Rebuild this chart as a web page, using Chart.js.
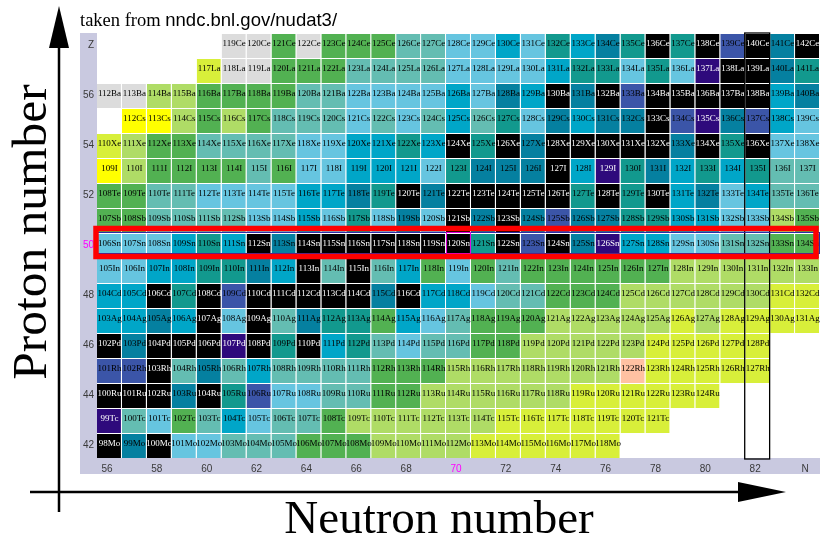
<!DOCTYPE html>
<html>
<head>
<meta charset="utf-8">
<title>Nuclide chart around Z = 50</title>
<script src="https://cdn.jsdelivr.net/npm/chart.js@4.4.0/dist/chart.umd.min.js"></script>
<style>
  html, body { margin: 0; padding: 0; background: #fff; overflow: hidden; }
  #wrap { position: relative; width: 820px; height: 539px; }
</style>
</head>
<body>
<div id="wrap"><canvas id="nuclideChart" width="820" height="539"></canvas></div>
<script>
// neutron numbers along x, one column each
var neutronNumbers = [56, 57, 58, 59, 60, 61, 62, 63, 64, 65, 66, 67, 68, 69, 70,
                      71, 72, 73, 74, 75, 76, 77, 78, 79, 80, 81, 82, 83, 84];
// one row per element, bottom to top
var protonNumbers = [42, 43, 44, 45, 46, 47, 48, 49, 50, 51, 52, 53, 54, 55, 56, 57, 58];
var symbols = ['Mo', 'Tc', 'Ru', 'Rh', 'Pd', 'Ag', 'Cd', 'In', 'Sn', 'Sb', 'Te', 'I', 'Xe', 'Cs', 'Ba', 'La', 'Ce'];
// lightest isotope shown in each row (its neutron number)
var firstNeutron = [56, 56, 56, 56, 56, 56, 56, 56, 56, 56, 56, 56, 56, 57, 56, 60, 61];
// half-life class of each isotope, starting at firstNeutron
// S stable, P >1e10 s, V 1e7-1e10, D 1e5-1e7, T 1e4-1e5, C 1e3-1e4, L 1e2-1e3,
// G 10-100 s, g 1-10 s, l 0.1-1 s, y 10-100 ms, Y <10 ms, U unknown, R other
var halfLifeClass = [
  'SDSLLGGGgggllllyyyyyy',          // Mo
  'PGLgGCLGGgllllllyyyyyyy',        // Tc
  'SSSDSTVLLGGggllllllyyyyyy',      // Ru
  'VVSGDGCGGGGggglllllllRyyyyy',    // Rh
  'SDSSSPSTSCTGLGGgglllllyyyyy',    // Pd
  'CCDCSLSGDTTgCLGggglllllylyyyy',  // Ag
  'CCSTSVSSSSSDSCCLGGgggllllllyy',  // Cd
  'LLCCTTDCSGSGCgLgGggggggllllll',  // In
  'LLLCTCSDSSSSSSSTSVSDPCCLLGGgg',  // Sn
  'ggGGGGLLCLTLDLSDSDVDDTTCCLLlg',  // Sb
  'ggGGLLLLCCDTSDSSSSSTSTSCDLCGG',  // Te
  'YlggggGgLLCCCLTDDDSCPTDCTCTGG',  // I
  'ylggGGGGLLCCTCSTSDSSSSSDSTSLL',  // Xe
  'YYlglgGGGLGLGCGTLDCDDSVPDVCL',   // Cs
  'UUllggggGGLLLLCLDCSDSVSSSSSCD',  // Ba
  'yUUgggGGGGLLLLCTTLTLPSSDT',      // La
  'UUgUgggGGLLCLTCDTSTSVSDS'        // Ce
];
var classColors = {
  S: '#000000', P: '#2e0a7c', V: '#3b55a8', D: '#0580a0', T: '#12998e',
  C: '#00a6c8', L: '#66c5e0', G: '#64bdb2', g: '#52b152', l: '#afdc66',
  y: '#d8ef3a', Y: '#ffff00', U: '#dcdcdc', R: '#ffc1a2'
};
// axis tick labels
var neutronTicks = [56, 58, 60, 62, 64, 66, 68, 70, 72, 74, 76, 78, 80, 82];
var protonTicks = [42, 44, 46, 48, 50, 52, 54, 56];
var magicN = 70, magicZ = 50, closedShellN = 82;

var datasets = protonNumbers.map(function (z, i) {
  var codes = halfLifeClass[i];
  var cellCodes = neutronNumbers.map(function (n) {
    var k = n - firstNeutron[i];
    return (k >= 0 && k < codes.length) ? codes.charAt(k) : null;
  });
  return {
    label: symbols[i],
    data: cellCodes.map(function (c) { return c ? [z - 0.5, z + 0.5] : null; }),
    backgroundColor: cellCodes.map(function (c) { return c ? classColors[c] : 'transparent'; }),
    codes: cellCodes,
    borderColor: '#ffffff',
    borderWidth: { top: 1, right: 1, bottom: 0, left: 0 },
    borderSkipped: false,
    inflateAmount: 0,
    grouped: false,
    barPercentage: 1,
    categoryPercentage: 1
  };
});

// isotope names written in each cell
var cellLabels = {
  id: 'cellLabels',
  afterDatasetsDraw: function (chart) {
    var ctx = chart.ctx;
    ctx.save();
    ctx.font = '9px "Liberation Serif"';
    ctx.textAlign = 'center';
    ctx.textBaseline = 'middle';
    chart.data.datasets.forEach(function (ds, i) {
      var meta = chart.getDatasetMeta(i);
      meta.data.forEach(function (bar, j) {
        var code = ds.codes[j];
        if (!code) return;
        var p = bar.getCenterPoint();
        ctx.fillStyle = (code === 'S' || code === 'P') ? '#ffffff' : '#000000';
        ctx.fillText((protonNumbers[i] + neutronNumbers[j]) + symbols[i], p.x, p.y - 2);
      });
    });
    ctx.restore();
  }
};

// axis strips, highlighted row/column, arrows and captions
var decorations = {
  id: 'decorations',
  beforeDraw: function (chart) {
    var ctx = chart.ctx, area = chart.chartArea;
    var xs = chart.scales.x, ys = chart.scales.y;
    ctx.save();
    ctx.fillStyle = '#c9c9e0';
    ctx.fillRect(ys.left, area.top, ys.width, xs.bottom - area.top);
    ctx.fillRect(ys.left, xs.top, chart.width - ys.left, xs.height);
    ctx.restore();
  },
  afterDraw: function (chart) {
    var ctx = chart.ctx, area = chart.chartArea;
    var xs = chart.scales.x, ys = chart.scales.y;
    var colW = xs.getPixelForValue(1) - xs.getPixelForValue(0);
    ctx.save();

    // N = 82 column
    var cx = xs.getPixelForValue(neutronNumbers.indexOf(closedShellN));
    ctx.strokeStyle = '#000000';
    ctx.lineWidth = 1.3;
    ctx.strokeRect(cx - colW / 2 - 0.5, area.top, colW, area.bottom - area.top + 1);

    // Z = 50 row
    var top50 = ys.getPixelForValue(magicZ + 0.5);
    var bot50 = ys.getPixelForValue(magicZ - 0.5);
    ctx.strokeStyle = '#2b2ba8';
    ctx.lineWidth = 1;
    ctx.strokeRect(area.left + 0.5, top50 - 0.5, chart.width - area.left - 1, bot50 - top50 - 4);
    var c70 = xs.getPixelForValue(neutronNumbers.indexOf(magicN));
    ctx.strokeStyle = '#e000e0';
    ctx.strokeRect(c70 - colW / 2 + 0.5, top50 - 0.5, colW - 1, bot50 - top50 - 4);
    ctx.strokeStyle = '#ff0000';
    ctx.lineWidth = 5.5;
    ctx.strokeRect(area.left - 1, top50 - 4.5, chart.width - 3 - area.left, bot50 - top50 + 3);

    // axis arrows
    ctx.fillStyle = '#000000';
    ctx.strokeStyle = '#000000';
    ctx.lineWidth = 2.5;
    ctx.beginPath();
    ctx.moveTo(59, 512);
    ctx.lineTo(59, 40);
    ctx.stroke();
    ctx.beginPath();
    ctx.moveTo(59, 6);
    ctx.lineTo(69, 48);
    ctx.lineTo(49, 48);
    ctx.closePath();
    ctx.fill();
    ctx.beginPath();
    ctx.moveTo(30, 492);
    ctx.lineTo(745, 492);
    ctx.stroke();
    ctx.beginPath();
    ctx.moveTo(786, 492);
    ctx.lineTo(738, 482);
    ctx.lineTo(738, 502);
    ctx.closePath();
    ctx.fill();

    // captions
    ctx.textBaseline = 'alphabetic';
    ctx.textAlign = 'left';
    ctx.font = '18.5px "Liberation Serif"';
    ctx.fillText('taken from ', 80, 26);
    var w = ctx.measureText('taken from ').width;
    ctx.font = '18.5px "Liberation Sans"';
    ctx.fillText('nndc.bnl.gov/nudat3/', 80 + w, 26);

    ctx.textAlign = 'center';
    ctx.font = '47px "Liberation Serif"';
    ctx.fillText('Neutron number', 439, 533);
    ctx.translate(46, 232);
    ctx.rotate(-Math.PI / 2);
    ctx.font = '49.5px "Liberation Serif"';
    ctx.fillText('Proton number', 0, 0);
    ctx.restore();
  }
};

new Chart(document.getElementById('nuclideChart').getContext('2d'), {
  type: 'bar',
  data: {
    labels: neutronNumbers,
    datasets: datasets
  },
  options: {
    responsive: false,
    animation: false,
    layout: { padding: { left: 80, top: 33, right: -2, bottom: 65 } },
    plugins: {
      legend: { display: false },
      tooltip: { enabled: false }
    },
    scales: {
      x: {
        type: 'category',
        grid: { display: false, drawTicks: false },
        border: { display: false },
        afterFit: function (scale) { scale.height = 16; },
        ticks: {
          autoSkip: false,
          maxRotation: 0,
          padding: 5,
          labelOffset: -2.5,
          font: { family: 'Liberation Sans', size: 10 },
          color: function (c) { return neutronNumbers[c.index] === magicN ? '#ff00ff' : '#3a3a3a'; },
          callback: function (value, index) {
            var n = neutronNumbers[index];
            if (n === 84) return 'N';
            return neutronTicks.indexOf(n) >= 0 ? String(n) : '';
          }
        }
      },
      y: {
        type: 'linear',
        min: 41.5,
        max: 58.5,
        grid: { display: false, drawTicks: false },
        border: { display: false },
        afterFit: function (scale) { scale.width = 17; },
        afterBuildTicks: function (scale) {
          scale.ticks = protonTicks.concat([58]).map(function (v) { return { value: v }; });
        },
        ticks: {
          padding: 3,
          font: { family: 'Liberation Sans', size: 10 },
          color: function (c) { return c.tick && c.tick.value === magicZ ? '#ff00ff' : '#3a3a3a'; },
          callback: function (value) { return value === 58 ? 'Z' : String(value); }
        }
      }
    }
  },
  plugins: [cellLabels, decorations]
});
</script>
</body>
</html>
